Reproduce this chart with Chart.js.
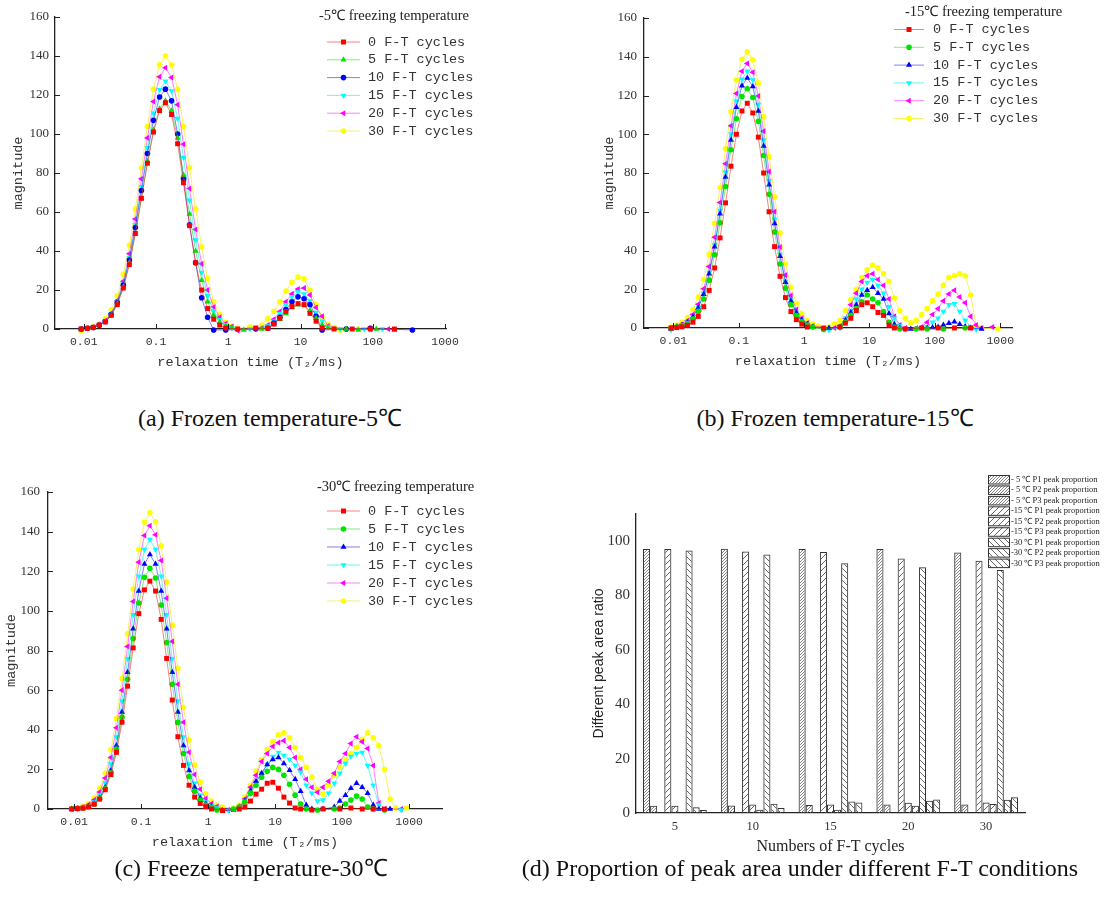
<!DOCTYPE html>
<html>
<head>
<meta charset="utf-8">
<title>T2 spectra and peak area proportion</title>
<script src="https://cdn.jsdelivr.net/npm/chart.js@4.4.1/dist/chart.umd.min.js"></script>
<style>
  html, body { margin: 0; background: #fff; }
  body { position: relative; width: 1105px; height: 911px; overflow: hidden; }
  canvas { position: absolute; }
  .cap {
    position: absolute; white-space: nowrap; transform: translateX(-50%);
    font-family: "Liberation Serif", "Times New Roman", serif; font-size: 24px;
    line-height: 26px; color: #111;
  }
</style>
</head>
<body>
<canvas id="chartA" width="560" height="390" style="left:0;top:0"></canvas>
<canvas id="chartB" width="545" height="390" style="left:560px;top:0"></canvas>
<canvas id="chartC" width="560" height="400" style="left:0;top:460px"></canvas>
<canvas id="chartD" width="545" height="400" style="left:560px;top:460px"></canvas>

<div class="cap" style="left:270px;top:405px">(a) Frozen temperature-5℃</div>
<div class="cap" style="left:835px;top:405px">(b) Frozen temperature-15℃</div>
<div class="cap" style="left:251px;top:855px">(c) Freeze temperature-30℃</div>
<div class="cap" style="left:800px;top:855px">(d) Proportion of peak area under different F-T conditions</div>

<script>
"use strict";

// ---------- data ----------
var _ = null;

// relaxation time grid (ms)
var T2 = [
  0.0092, 0.0112, 0.0135, 0.0164, 0.0199, 0.024, 0.0291, 0.0353, 0.0428, 0.0518, 0.0628, 0.0761,
  0.0922, 0.112, 0.135, 0.164, 0.199, 0.24, 0.291, 0.353, 0.428, 0.518, 0.628, 0.761,
  0.922, 1.12, 1.35, 1.64, 1.99, 2.4, 2.91, 3.53, 4.28, 5.18, 6.28, 7.61,
  9.22, 11.2, 13.5, 16.4, 19.9, 24, 29.1, 35.3, 42.8, 51.8, 62.8, 76.1,
  92.2, 112, 135, 164, 199, 240, 291, 353, 428, 518, 628, 761,
  922
];
var X_TICKS = [0.01, 0.1, 1, 10, 100, 1000];
var X_TICK_LABELS = ["0.01", "0.1", "1", "10", "100", "1000"];
var Y_TICKS = [0, 20, 40, 60, 80, 100, 120, 140, 160];
var CYCLE_LABELS = ["0 F-T cycles", "5 F-T cycles", "10 F-T cycles", "15 F-T cycles", "20 F-T cycles", "30 F-T cycles"];

// (a) -5 C
var a0 = [
  0, 0.3, 0.8, 2, 3.6, 7, 12.5, 21, 33, 49, 67, 85,
  101, 112, 116, 110, 95, 75, 53, 34, 20, 10.5, 5, 2,
  0.5, _, 0, _, _, 0.5, _, 0.3, 2.5, 5.5, 9, 11.5,
  13, 12.5, 8, 4, 0.5, _, 0, _, _, 0, _, _,
  0, _, _, _, 0, _, _, _, _, _, _, _,
  _
];
var a5 = [
  0, 0.3, 0.8, 2, 3.7, 7, 13, 21.5, 34, 49, 67, 86,
  102, 113, 117, 112, 98, 79, 59, 40, 25, 14, 7, 3.5,
  1.5, 0.5, _, -0.5, _, _, 0, 0.5, 2.5, 5, 8, 11,
  12.5, 12, 9.5, 5.5, 2, 0.5, _, _, 0, _, -0.5, _,
  _, 0, _, _, -0.5, _, _, _, _, _, _, _,
  _
];
var a10 = [
  0, 0.4, 0.8, 2, 3.8, 7.4, 13.4, 22.5, 35.4, 52, 71, 90,
  107, 119, 123, 117, 100, 77, 53.5, 34, 16, 6, -0.5, _,
  -0.5, _, _, _, _, 0, _, 0.5, 3, 6, 10, 14,
  16.5, 15.5, 12.5, 6.5, -0.5, _, _, _, 0, _, _, _,
  0.3, _, _, _, _, _, _, -0.5, _, _, _, _,
  _
];
var a15 = [
  0, 0.4, 0.9, 2, 4, 7.7, 14, 23, 36.6, 53.5, 73, 93,
  110.6, 122.7, 127, 122, 108, 88, 66, 45.7, 29, 17, 9.3, 4.7,
  2.2, 0.5, _, _, 0, _, _, 1.5, 4, 8, 12.5, 16.5,
  19, 18, 14.5, 8.5, 4, 1, _, 0, _, _, _, 0,
  _, _, 0, _, _, _, _, _, _, _, _, _,
  _
];
var a20 = [
  0, 0.4, 0.9, 2, 4.2, 8, 14.6, 24.5, 38.6, 56.4, 77, 98,
  116.7, 129.4, 134, 129, 115, 94.7, 72, 51, 33.4, 20, 11.3, 6,
  2.8, 1.3, -0.8, _, _, _, 0.5, 2, 5, 9, 14, 18,
  20.5, 21, 17.5, 11, 6.5, 1.5, _, _, 0, _, _, _,
  0, _, _, 0, _, _, _, _, _, _, _, _,
  _
];
var a30 = [
  -1, 0.5, 1.2, 2.6, 5.2, 9.8, 17, 28, 43, 61.6, 82.7, 104,
  123, 135.5, 140, 135.5, 123, 104, 82.7, 61.6, 42, 26, 14, 7.5,
  3.5, 1.5, 0.5, _, 1, _, 2, 5.3, 9.1, 14, 19.5, 24,
  26.6, 25.7, 20, 12.5, 6.2, 2.4, 0.8, -0.5, _, _, 0, _,
  0.5, _, _, _, _, _, _, _, _, _, _, _,
  _
];

// (b) -15 C
var b0 = [
  0, 0.2, 0.6, 1.4, 3, 6, 11, 19.4, 31, 46.5, 64.6, 83.5,
  100, 112, 116, 111, 98.5, 80, 60, 42, 26.7, 15.7, 8.5, 4.3,
  2, 0.5, _, _, 0, _, _, 0.5, 2.5, 5, 9, 12,
  13, 11, 8, 6.5, 1.5, 0, _, -0.5, _, _, 0, _,
  _, 0, _, _, 0, _, _, 0, _, _, _, _,
  _
];
var b5 = [
  0, 0.5, 1.1, 2.3, 4.6, 8.6, 15, 24.7, 37.8, 54.3, 73, 92,
  108, 119.5, 123.5, 119, 106.7, 89, 69, 49.5, 33, 20.6, 12, 6.4,
  3.2, 1.5, 0.5, _, -0.8, _, _, 0.5, 3, 6.5, 10, 13.5,
  17, 15, 13, 8.5, 3, 0.5, -0.5, _, _, -0.5, _, -0.5,
  _, _, -0.5, _, _, _, 0, _, _, _, _, _,
  _
];
var b10 = [
  -0.5, 0.7, 1.4, 2.9, 5.7, 10.3, 17.4, 28, 42, 59, 78, 97,
  114, 125, 129, 124.6, 112, 94, 74, 54, 37, 23.6, 14, 7.8,
  4, 1.9, 0.5, _, _, 0, _, 0.5, 4, 8, 12, 17,
  19.5, 21, 18, 15, 7.5, 2, 0, _, -0.5, _, _, 0,
  0.2, 0.5, 1.5, 2.5, 3.2, 2, 0.8, 0, _, -0.5, _, _,
  _
];
var b15 = [
  -1, 0.7, 1.5, 3, 5.8, 10.5, 18, 28.6, 43, 60.7, 80.4, 100,
  117, 128.4, 132.5, 128, 115.4, 97, 76, 56, 38, 24, 14.4, 8,
  4, 2, 0.5, _, _, -1, _, 0, 5, 9, 15, 20,
  23.5, 25, 22, 18, 11, 5, 1, -0.8, _, _, 0, 0.5,
  3, 5, 8.5, 12, 12.5, 8.5, 4, 0.5, -0.8, _, _, _,
  _
];
var b20 = [
  0, 0.9, 1.9, 3.7, 7, 12.3, 20.3, 31.8, 46.8, 64.8, 84.8, 104.4,
  121, 132.5, 136.5, 132, 119.7, 101.6, 80.7, 60, 41.8, 27.3, 16.7, 9.5,
  5, 2.6, 1, _, _, _, 0, 1, 5, 12, 18, 24,
  27, 28, 25, 22, 15, 6, 1.5, 0, _, 0, 0.5, 3,
  7, 10, 14, 17.5, 19.5, 16, 13, 6, 1.5, 0, _, 0.5,
  _
];
var b30 = [
  0.5, 1.5, 2.9, 5.4, 9.5, 16, 25, 38, 54, 72.5, 92.5, 111.7,
  128, 138.7, 142.5, 138.4, 126.5, 109, 88.5, 67.7, 49, 33, 21, 12.8,
  7.3, 3.9, 2, 1, _, 0.5, 2, 4, 9, 14.5, 20, 26,
  30, 32.5, 31, 28, 24, 15.5, 9, 5, 2.7, 4, 7, 10,
  14, 17.5, 22, 26, 27, 28, 27, 17, 1, 0, _, _,
  -0.5
];

// (c) -30 C
var c0 = [
  0, 0.2, 0.4, 1.1, 2.4, 5, 9.7, 17.4, 28.6, 43.8, 62, 81.3,
  98.6, 110.6, 115, 110, 95.7, 76, 55, 36.5, 22, 12, 6, 2.8,
  1.2, 0, _, -0.8, _, _, 0, 1, 4, 7.5, 10, 13,
  13.5, 10.5, 6, 3, 0.5, 0, _, -0.5, _, 0, _, _,
  0, _, 0.5, _, 0, _, 0, _, 0, _, _, _,
  _
];
var c5 = [
  0, 0.2, 0.5, 1.1, 2.6, 5.3, 10.3, 18.3, 30.3, 46.3, 65.5, 86,
  104, 117, 121.5, 116.6, 103, 84, 63, 43.7, 28, 16.4, 9, 4.5,
  2, 0.9, -0.5, _, _, 0, 1, 3.5, 8, 12, 16, 19,
  21, 20, 17, 12.5, 7, 2.5, 0, _, -0.5, _, _, 0,
  0.5, 2.5, 4.5, 6.5, 5, 1, 0, _, -0.5, _, _, _,
  _
];
var c10 = [
  0, 0.2, 0.5, 1.2, 2.7, 5.6, 11, 19.4, 32, 49, 69, 91,
  110, 123.6, 128.5, 123.6, 110, 91, 69, 49, 32, 19.4, 11, 5.6,
  2.7, 1.2, _, -0.8, _, -0.5, 1, 4, 9, 14, 18, 22.5,
  25, 26, 23, 19.5, 15, 9, 2, 0, _, 0, _, 1,
  4, 7, 10.5, 13, 11, 8, 2, 0, _, 0, _, _,
  _
];
var c15 = [
  0, 0.3, 0.7, 1.6, 3.5, 7.1, 13.1, 22.7, 36.4, 54.5, 75.8, 98,
  117.5, 131, 136, 131, 117.5, 98, 75.8, 54.5, 36.4, 22.7, 13, 7,
  3.5, 1.6, 0.5, _, -0.8, _, 1, 4, 8, 13, 18, 22.5,
  26.5, 28.5, 27, 25, 22, 18.5, 12, 8, 4, 4.5, 8, 13,
  18, 23, 26.5, 28, 28.5, 22, 12, 2, 0, _, _, -0.5,
  _
];
var c20 = [
  0, 0.4, 1, 2.2, 4.5, 8.6, 15.6, 26, 41, 60, 82, 104.7,
  124.6, 138, 143, 138.4, 125.4, 106.4, 84.5, 63, 43.8, 28.6, 17.4, 10,
  5.3, 2.7, 1.3, _, -0.5, _, 1, 5, 11, 17, 24, 28,
  31.5, 33.5, 34.5, 31, 26, 20, 15, 11, 8.5, 11, 14, 18,
  24, 28, 33, 36.5, 34, 30.5, 22, 3, 0, _, _, 0,
  _
];
var c30 = [
  0, 0.6, 1.3, 2.8, 5.6, 10.4, 18, 30, 45.7, 65.8, 88.4, 111,
  131, 144.7, 149.5, 145, 132.8, 114.4, 92.8, 71, 51.3, 34.8, 22.3, 13.5,
  7.6, 4, 2, 1, _, 0.5, 2, 6, 12, 19, 25, 30,
  34, 37.5, 38.5, 36, 31, 26, 21, 16, 10, 7.5, 12, 17,
  21, 25, 28, 31, 35, 38.5, 36, 32, 20, 5, 0.5, _,
  0.5
];

// (d) peak area proportion (%)
var D_CATEGORIES = ["5", "10", "15", "20", "30"];
var D_LABELS = [
  "- 5 ℃ P1 peak proportion", "- 5 ℃ P2 peak proportion", "- 5 ℃ P3 peak proportion",
  "-15 ℃ P1 peak proportion", "-15 ℃ P2 peak proportion", "-15 ℃ P3 peak proportion",
  "-30 ℃ P1 peak proportion", "-30 ℃ P2 peak proportion", "-30 ℃ P3 peak proportion"
];
var m5P1 = [97.1, 97.2, 97.1, 97.1, 95.8];
var m5P2 = [2.7, 2.8, 2.9, 3.1, 3.1];
var m5P3 = [0, 0, 0, 0, 0];
var m15P1 = [97.1, 96.2, 96.0, 93.6, 92.8];
var m15P2 = [2.7, 3.1, 3.1, 3.8, 3.9];
var m15P3 = [0, 1.2, 1.2, 2.7, 3.3];
var m30P1 = [96.6, 95.1, 91.9, 90.4, 89.4];
var m30P2 = [2.1, 3.4, 4.2, 4.5, 4.9];
var m30P3 = [1.1, 1.8, 3.9, 5.0, 5.8];
var D_TICKS = [0, 20, 40, 60, 80, 100];

// ---------- styles ----------
var SERIF = "'Liberation Serif', 'Times New Roman', serif";
var MONO = "'Liberation Mono', 'Courier New', monospace";
var SANS = "'Liberation Sans', Arial, sans-serif";
var COLORS = ["#ff0000", "#00e400", "#0000ff", "#00ffff", "#ff00ff", "#ffff00"];
var LINE_COLORS = ["rgba(255,0,0,0.5)", "rgba(0,220,0,0.5)", "rgba(0,0,255,0.5)",
                   "rgba(0,230,230,0.55)", "rgba(255,0,255,0.5)", "rgba(235,235,0,0.6)"];
var STYLE_A = [["rect", 0], ["triangle", 0], ["circle", 0], ["triangle", 180], ["triangle", -90], ["circle", 0]];
var STYLE_BC = [["rect", 0], ["circle", 0], ["triangle", 0], ["triangle", 180], ["triangle", -90], ["circle", 0]];

// ---------- plugins ----------
// tick marks pointing into the plot, like the original figure
var inwardTicks = {
  id: "inwardTicks",
  afterDraw: function (chart) {
    var c = chart.ctx, a = chart.chartArea, xs = chart.scales.x, ys = chart.scales.y;
    c.save();
    c.strokeStyle = "#222";
    c.lineWidth = 1;
    c.beginPath();
    xs.ticks.forEach(function (t) {
      var px = Math.round(xs.getPixelForValue(t.value)) + 0.5;
      c.moveTo(px, a.bottom);
      c.lineTo(px, a.bottom - 5);
    });
    ys.ticks.forEach(function (t) {
      var py = Math.round(ys.getPixelForValue(t.value)) + 0.5;
      c.moveTo(a.left, py);
      c.lineTo(a.left + 5, py);
    });
    c.stroke();
    c.restore();
  }
};

// legend drawn inside the plot (title + line/marker samples)
var seriesLegend = {
  id: "seriesLegend",
  afterDraw: function (chart, args, o) {
    var c = chart.ctx;
    c.save();
    c.textBaseline = "middle";
    c.fillStyle = "#222";
    c.font = "14.5px " + SERIF;
    c.fillText(o.title, o.titleX, o.titleY);
    c.font = "13.5px " + MONO;
    chart.data.datasets.forEach(function (ds, i) {
      var y = o.y + i * o.step;
      c.strokeStyle = ds.borderColor;
      c.lineWidth = 1;
      c.beginPath();
      c.moveTo(o.x1, y);
      c.lineTo(o.x2, y);
      c.stroke();
      c.fillStyle = ds.pointBackgroundColor;
      Chart.helpers.drawPoint(c, {
        pointStyle: ds.pointStyle, rotation: ds.pointRotation,
        radius: ds.pointRadius, borderWidth: 0
      }, (o.x1 + o.x2) / 2, y);
      c.fillStyle = "#333";
      c.fillText(ds.label, o.textX, y);
    });
    c.restore();
  }
};

// hatched legend for panel (d), white box over the bars
var hatchLegend = {
  id: "hatchLegend",
  afterDraw: function (chart, args, o) {
    var c = chart.ctx;
    c.save();
    c.fillStyle = "#fff";
    c.fillRect(o.x - 3, o.y - 2, 125, o.step * 9 + 2);
    c.textBaseline = "middle";
    c.font = "8.5px " + SERIF;
    chart.data.datasets.forEach(function (ds, i) {
      var y = o.y + i * o.step;
      c.fillStyle = ds.backgroundColor;
      c.fillRect(o.x, y, o.w, o.h);
      c.strokeStyle = "#333";
      c.lineWidth = 1;
      c.strokeRect(o.x + 0.5, y + 0.5, o.w, o.h);
      c.fillStyle = "#222";
      c.fillText(ds.label, o.textX, y + o.h / 2 + 0.5);
    });
    c.restore();
  }
};

// ---------- spectra (a)-(c) ----------
function spectrumChart(id, series, styles, box, legend) {
  var datasets = series.map(function (values, i) {
    return {
      label: CYCLE_LABELS[i],
      data: values,
      borderColor: LINE_COLORS[i],
      borderWidth: 1,
      pointStyle: styles[i][0],
      pointRotation: styles[i][1],
      pointRadius: styles[i][0] === "circle" ? 2.8 : 3.5,
      pointBackgroundColor: COLORS[i],
      pointBorderWidth: 0,
      pointHoverRadius: 3,
      spanGaps: true,
      tension: 0,
      clip: 8
    };
  });

  return new Chart(document.getElementById(id), {
    type: "line",
    data: { labels: T2, datasets: datasets },
    options: {
      responsive: false,
      animation: false,
      devicePixelRatio: 1,
      events: [],
      layout: { padding: { left: 0, top: box.top, right: box.right, bottom: box.bottom } },
      plugins: {
        legend: { display: false },
        tooltip: { enabled: false },
        seriesLegend: legend
      },
      scales: {
        x: {
          type: "logarithmic",
          min: box.xMin,
          max: box.xMax,
          afterBuildTicks: function (s) { s.ticks = X_TICKS.map(function (v) { return { value: v }; }); },
          afterFit: function (s) { s.height = box.xHeight; },
          grid: { display: false, drawTicks: false },
          border: { display: true, color: "#222", width: 1.3 },
          ticks: {
            autoSkip: false, maxRotation: 0, padding: box.xPad, color: "#333",
            font: { family: MONO, size: 11.5 },
            callback: function (v, i) { return X_TICK_LABELS[i]; }
          },
          title: {
            display: true, text: "relaxation time (T₂/ms)", color: "#333",
            font: { family: MONO, size: 13.5 }, padding: { top: 0, bottom: 2 }
          }
        },
        y: {
          min: 0,
          max: 160,
          afterBuildTicks: function (s) { s.ticks = Y_TICKS.map(function (v) { return { value: v }; }); },
          afterFit: function (s) { s.width = box.yWidth; },
          grid: { display: false, drawTicks: false },
          border: { display: true, color: "#222", width: 1.3 },
          ticks: { padding: box.yPad, color: "#333", font: { family: SERIF, size: 13 } },
          title: {
            display: true, text: "magnitude", color: "#333",
            font: { family: MONO, size: 13.5 }, padding: { top: box.yTitlePad, bottom: 0 }
          }
        }
      }
    },
    plugins: [inwardTicks, seriesLegend]
  });
}

spectrumChart("chartA", [a0, a5, a10, a15, a20, a30], STYLE_A,
  { top: 17, right: 114, bottom: 17, xHeight: 44, xPad: 6, yWidth: 55, yPad: 6, yTitlePad: 10.5, xMin: 0.004, xMax: 1030 },
  { title: "-5℃ freezing temperature", titleX: 319, titleY: 16, x1: 327, x2: 360, textX: 368, y: 42, step: 17.8 });

spectrumChart("chartB", [b0, b5, b10, b15, b20, b30], STYLE_BC,
  { top: 18, right: 93, bottom: 18, xHeight: 44, xPad: 6, yWidth: 84, yPad: 7, yTitlePad: 41, xMin: 0.00355, xMax: 1514 },
  { title: "-15℃ freezing temperature", titleX: 345, titleY: 12, x1: 334, x2: 364, textX: 373, y: 29.5, step: 17.8 });

spectrumChart("chartC", [c0, c5, c10, c15, c20, c30], STYLE_BC,
  { top: 32, right: 118, bottom: 7, xHeight: 44, xPad: 6.4, yWidth: 48, yPad: 8, yTitlePad: 3.3, xMin: 0.00407, xMax: 3090 },
  { title: "-30℃ freezing temperature", titleX: 317, titleY: 27, x1: 327, x2: 360, textX: 368, y: 51, step: 18 });

// ---------- bars (d) ----------
(function () {
  var canvas = document.getElementById("chartD");
  var ctx = canvas.getContext("2d");

  function hatch(size, dir, color, width) {
    var t = document.createElement("canvas");
    t.width = size;
    t.height = size;
    var g = t.getContext("2d");
    g.strokeStyle = color;
    g.lineWidth = width;
    g.beginPath();
    if (dir > 0) {
      g.moveTo(0, size); g.lineTo(size, 0);
      g.moveTo(-1, 1); g.lineTo(1, -1);
      g.moveTo(size - 1, size + 1); g.lineTo(size + 1, size - 1);
    } else {
      g.moveTo(0, 0); g.lineTo(size, size);
      g.moveTo(size - 1, -1); g.lineTo(size + 1, 1);
      g.moveTo(-1, size - 1); g.lineTo(1, size + 1);
    }
    g.stroke();
    return ctx.createPattern(t, "repeat");
  }

  var patterns = [hatch(3, 1, "#666", 0.8), hatch(6, 1, "#555", 0.9), hatch(6, -1, "#555", 0.9)];
  var series = [m5P1, m5P2, m5P3, m15P1, m15P2, m15P3, m30P1, m30P2, m30P3];

  new Chart(canvas, {
    type: "bar",
    data: {
      labels: D_CATEGORIES,
      datasets: series.map(function (vals, i) {
        return {
          label: D_LABELS[i],
          data: vals,
          backgroundColor: patterns[Math.floor(i / 3)],
          borderColor: "#333",
          borderWidth: 1,
          categoryPercentage: 0.82,
          barPercentage: 1
        };
      })
    },
    options: {
      responsive: false,
      animation: false,
      devicePixelRatio: 1,
      events: [],
      layout: { padding: { left: 0, top: 54, right: 80, bottom: 1.6 } },
      plugins: {
        legend: { display: false },
        tooltip: { enabled: false },
        hatchLegend: { x: 428, y: 15, w: 21, h: 8.5, step: 10.45, textX: 451 }
      },
      scales: {
        x: {
          afterFit: function (s) { s.height = 45.4; },
          grid: { display: false, drawTicks: false },
          border: { display: true, color: "#222", width: 1.3 },
          ticks: { padding: 5.8, color: "#333", font: { family: SERIF, size: 12.5 } },
          title: {
            display: true, text: "Numbers of F-T cycles", color: "#222",
            font: { family: SERIF, size: 16 }, padding: { top: 0, bottom: 2 }
          }
        },
        y: {
          min: 0,
          max: 110,
          afterBuildTicks: function (s) { s.ticks = D_TICKS.map(function (v) { return { value: v }; }); },
          afterFit: function (s) { s.width = 76; },
          grid: { display: false, drawTicks: false },
          border: { display: true, color: "#222", width: 1.3 },
          ticks: { padding: 6, color: "#333", font: { family: SERIF, size: 15 } },
          title: {
            display: true, text: "Different peak area ratio", color: "#222",
            font: { family: SANS, size: 14 }, padding: { top: 30.6, bottom: 0 }
          }
        }
      }
    },
    plugins: [hatchLegend]
  });
})();
</script>
</body>
</html>
